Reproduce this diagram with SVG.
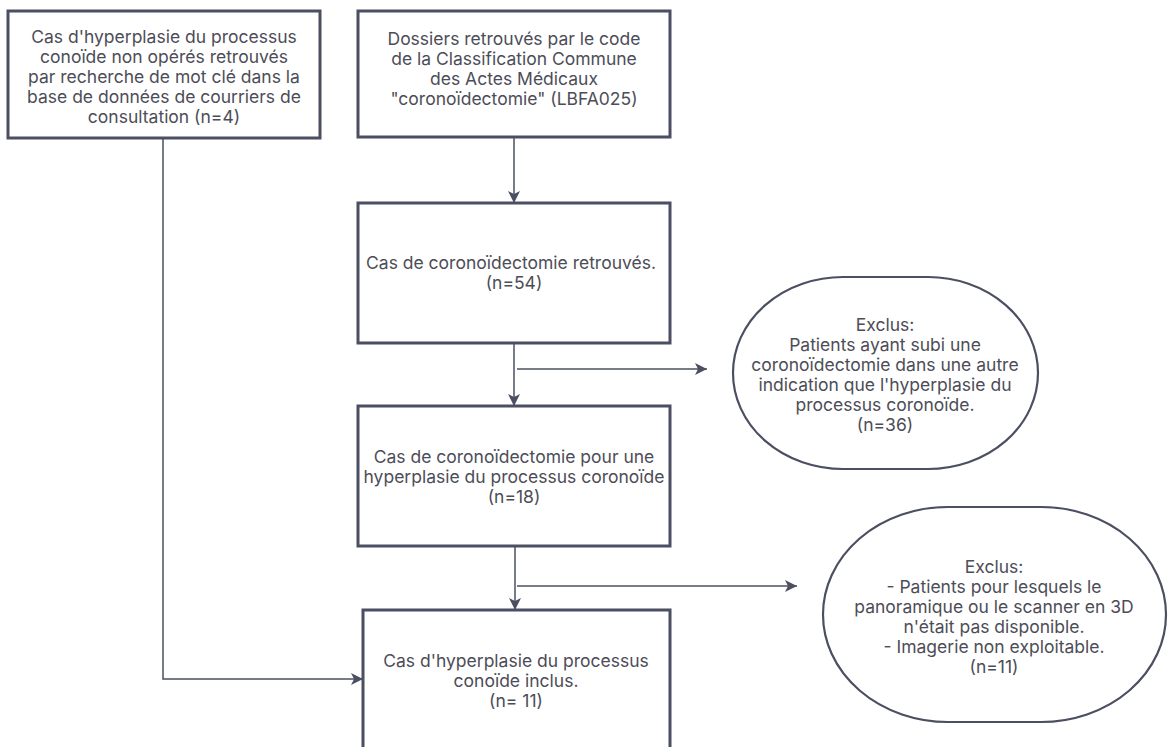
<svg xmlns="http://www.w3.org/2000/svg" width="1168" height="747" viewBox="0 0 1168 747">
<defs>
<style>
.box{fill:#ffffff;stroke:#4b4f61;stroke-width:3}
.oval{fill:#ffffff;stroke:#4b4f61;stroke-width:2.2}
.t{font-family:Inter,"Noto Sans","Liberation Sans",sans-serif;font-size:17.5px;fill:#4d4d57;text-anchor:middle}
.c{fill:none;stroke:#4b4f61;stroke-width:1.5}
</style>
<marker id="ah" viewBox="0 0 10 10" refX="10" refY="5" markerWidth="12" markerHeight="12" markerUnits="userSpaceOnUse" orient="auto">
<path d="M0,0 L10,5 L0,10 L2.5,5 Z" fill="#4b4f61"/>
</marker>
</defs>
<rect width="1168" height="747" fill="#ffffff"/>
<g id="connectors">
<path class="c" d="M514,138 V203" marker-end="url(#ah)"/>
<path class="c" d="M514,344 V406" marker-end="url(#ah)"/>
<path class="c" d="M517,369 H707" marker-end="url(#ah)"/>
<path class="c" d="M515,547 V610" marker-end="url(#ah)"/>
<path class="c" d="M517,586 H797" marker-end="url(#ah)"/>
<path class="c" d="M163,139 V679 H363" marker-end="url(#ah)"/>
</g>
<g id="n1">
<rect class="box" x="8" y="11" width="312" height="127"/>
<text class="t" x="164" y="43">Cas d'hyperplasie du processus</text>
<text class="t" x="164" y="63">conoïde non opérés retrouvés</text>
<text class="t" x="164" y="83">par recherche de mot clé dans la</text>
<text class="t" x="164" y="103">base de données de courriers de</text>
<text class="t" x="164" y="123">consultation (n=4)</text>
</g>
<g id="n2">
<rect class="box" x="358" y="11" width="312" height="126"/>
<text class="t" x="514" y="45">Dossiers retrouvés par le code</text>
<text class="t" x="514" y="65">de la Classification Commune</text>
<text class="t" x="514" y="85">des Actes Médicaux</text>
<text class="t" x="514" y="105">"coronoïdectomie" (LBFA025)</text>
</g>
<g id="n3">
<rect class="box" x="358" y="203" width="312" height="140"/>
<text class="t" x="511" y="269">Cas de coronoïdectomie retrouvés.</text>
<text class="t" x="514" y="289">(n=54)</text>
</g>
<g id="n4">
<rect class="box" x="358" y="406" width="312" height="140"/>
<text class="t" x="514" y="463">Cas de coronoïdectomie pour une</text>
<text class="t" x="514" y="483">hyperplasie du processus coronoïde</text>
<text class="t" x="514" y="503">(n=18)</text>
</g>
<g id="n5">
<rect class="box" x="363" y="610" width="307" height="145"/>
<text class="t" x="516" y="667">Cas d'hyperplasie du processus</text>
<text class="t" x="516" y="687">conoïde inclus.</text>
<text class="t" x="516" y="707">(n= 11)</text>
</g>
<g id="e1">
<rect class="oval" x="733" y="277" width="305" height="192" rx="110" ry="96"/>
<text class="t" x="885" y="331">Exclus:</text>
<text class="t" x="885" y="351">Patients ayant subi une</text>
<text class="t" x="885" y="371">coronoïdectomie dans une autre</text>
<text class="t" x="885" y="391">indication que l'hyperplasie du</text>
<text class="t" x="885" y="411">processus coronoïde.</text>
<text class="t" x="885" y="431">(n=36)</text>
</g>
<g id="e2">
<rect class="oval" x="823" y="507" width="343" height="215" rx="125" ry="107.5"/>
<text class="t" x="994" y="573">Exclus:</text>
<text class="t" x="994" y="593">- Patients pour lesquels le</text>
<text class="t" x="994" y="613">panoramique ou le scanner en 3D</text>
<text class="t" x="994" y="633">n'était pas disponible.</text>
<text class="t" x="994" y="653">- Imagerie non exploitable.</text>
<text class="t" x="994" y="673">(n=11)</text>
</g>
</svg>
